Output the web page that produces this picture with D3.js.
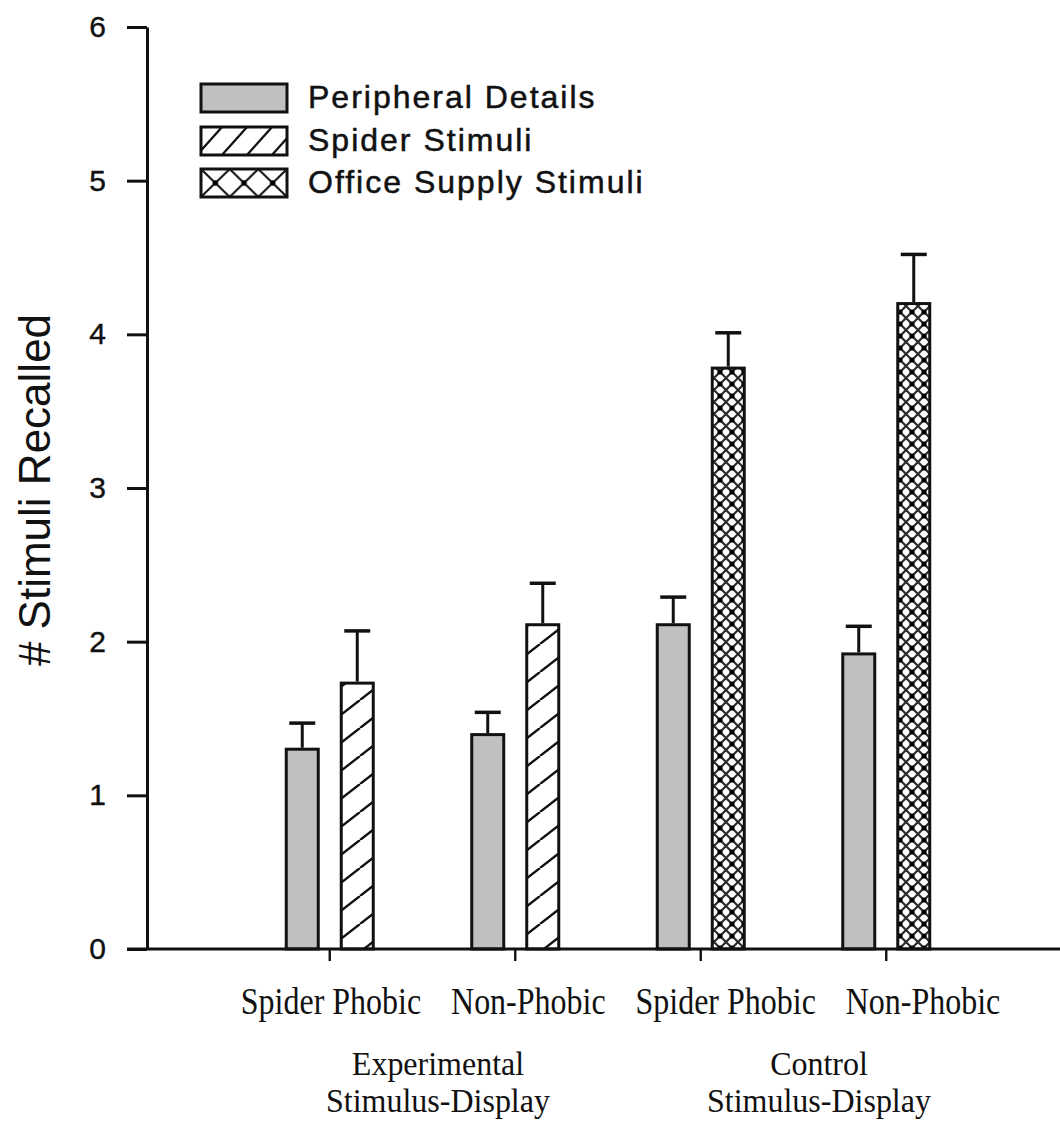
<!DOCTYPE html>
<html>
<head>
<meta charset="utf-8">
<script src="https://cdn.jsdelivr.net/npm/d3@7"></script>
<style>
  html, body { margin: 0; padding: 0; background: #fff; }
  svg { display: block; }
</style>
</head>
<body>
<div id="chart"></div>
<script>
// ---------- DATA ----------
const groupIds = ["exp-sp", "exp-np", "ctl-sp", "ctl-np"];
const participantLabels = ["Spider Phobic", "Non-Phobic", "Spider Phobic", "Non-Phobic"];
const conditionLabels = [["Experimental", "Stimulus-Display"], ["Control", "Stimulus-Display"]];
const peripheralMeans = [1.31, 1.405, 2.12, 1.93];
const peripheralErrors = [0.16, 0.135, 0.17, 0.17];
const stimulusMeans = [1.74, 2.12, 3.79, 4.21];
const stimulusErrors = [0.33, 0.26, 0.22, 0.31];
const stimulusTypes = ["spider", "spider", "office", "office"];
const seriesKeys = ["peripheral", "stimulus"];
const legendLabels = ["Peripheral Details", "Spider Stimuli", "Office Supply Stimuli"];
const legendTypes = ["peripheral", "spider", "office"];
const yTicks = [0, 1, 2, 3, 4, 5, 6];
const yTitle = "# Stimuli Recalled";

// ---------- LAYOUT ----------
const W = 1060, H = 1125;
const sans = "'Liberation Sans', Arial, Helvetica, sans-serif";
const serif = "'Liberation Serif', 'Times New Roman', Times, serif";

const svg = d3.select("#chart").append("svg")
  .attr("width", W).attr("height", H)
  .attr("viewBox", `0 0 ${W} ${H}`);

const defs = svg.append("defs");

// Spider hatch for bars
const sp = defs.append("pattern").attr("id", "spiderHatch")
  .attr("patternUnits", "userSpaceOnUse").attr("width", 36).attr("height", 28);
sp.append("rect").attr("width", 36).attr("height", 28).attr("fill", "#fff");
sp.append("path").attr("d", "M-36,28 L0,0 M0,28 L36,0 M36,28 L72,0")
  .attr("stroke", "#111").attr("stroke-width", 2.4);

// Office crosshatch for bars
const of = defs.append("pattern").attr("id", "officeHatch")
  .attr("patternUnits", "userSpaceOnUse").attr("width", 12).attr("height", 12);
of.append("rect").attr("width", 12).attr("height", 12).attr("fill", "#fff");
of.append("path").attr("d", "M0,12 L12,0 M0,0 L12,12 M-1,1 L1,-1 M11,13 L13,11")
  .attr("stroke", "#2a2a2a").attr("stroke-width", 2.2);
[[0,0],[12,0],[0,12],[12,12]].forEach(([cx, cy]) =>
  of.append("circle").attr("cx", cx).attr("cy", cy).attr("r", 2.6).attr("fill", "#000"));

// Legend patterns
const legendX = 201, legendW = 86, legendH = 28, legendTextX = 308;
const legendBaselines = [108, 151, 193];

const spl = defs.append("pattern").attr("id", "spiderLegend")
  .attr("patternUnits", "userSpaceOnUse").attr("width", 25).attr("height", 28)
  .attr("x", legendX - 4).attr("y", legendBaselines[1] - 24);
spl.append("rect").attr("width", 25).attr("height", 28).attr("fill", "#fff");
spl.append("path").attr("d", "M-25,28 L0,0 M0,28 L25,0 M25,28 L50,0")
  .attr("stroke", "#111").attr("stroke-width", 2.2);

const ofl = defs.append("pattern").attr("id", "officeLegend")
  .attr("patternUnits", "userSpaceOnUse").attr("width", 28.67).attr("height", 28)
  .attr("x", legendX).attr("y", legendBaselines[2] - 24);
ofl.append("rect").attr("width", 28.67).attr("height", 28).attr("fill", "#fff");
ofl.append("path").attr("d", "M0,0 L28.67,28 M0,28 L28.67,0")
  .attr("stroke", "#111").attr("stroke-width", 2);
ofl.append("circle").attr("cx", 14.33).attr("cy", 14).attr("r", 2.8).attr("fill", "#000");

const fillFor = t => t === "peripheral" ? "#c0c0c0" : (t === "spider" ? "url(#spiderHatch)" : "url(#officeHatch)");
const legendFill = t => t === "peripheral" ? "#c0c0c0" : (t === "spider" ? "url(#spiderLegend)" : "url(#officeLegend)");

// ---------- SCALES ----------
const y = d3.scaleLinear().domain([0, 6]).range([949, 27]);
const x = d3.scaleBand().domain(groupIds).range([237, 979]).paddingInner(0).paddingOuter(0);
const sub = d3.scaleBand().domain(seriesKeys).range([-45, 45]).paddingInner(0.3636).paddingOuter(0);
const labelX = d3.scaleLinear().domain([0, 3]).range([331, 923]);
const condX = d3.scaleLinear().domain([0, 1]).range([438, 819]);

// ---------- AXES ----------
const yAxis = d3.axisLeft(y).tickValues(yTicks).tickSize(20).tickSizeOuter(0).tickPadding(21)
  .tickFormat(d3.format("d"));
const gy = svg.append("g").attr("transform", "translate(147,0)").call(yAxis)
  .attr("font-size", 30).attr("font-family", sans);
gy.select(".domain").attr("stroke", "#111").attr("stroke-width", 3);
gy.selectAll(".tick line").attr("stroke", "#111").attr("stroke-width", 3);
gy.selectAll(".tick text").attr("font-family", sans).attr("font-size", 30)
  .attr("fill", "#111").attr("stroke", "#111").attr("stroke-width", 0.4);

const xAxis = d3.axisBottom(x).tickSize(12).tickSizeOuter(0).tickFormat("");
const gx = svg.append("g").attr("transform", `translate(0,${y(0)})`).call(xAxis);
gx.select(".domain").remove();
gx.selectAll(".tick line").attr("stroke", "#111").attr("stroke-width", 2.4);

// ---------- BARS ----------
const barData = [];
groupIds.forEach((g, i) => {
  barData.push({ g, key: "peripheral", type: "peripheral", v: peripheralMeans[i], e: peripheralErrors[i] });
  barData.push({ g, key: "stimulus", type: stimulusTypes[i], v: stimulusMeans[i], e: stimulusErrors[i] });
});
const cx = d => x(d.g) + x.bandwidth() / 2 + sub(d.key) + sub.bandwidth() / 2;

const bars = svg.append("g");
bars.selectAll("line.err").data(barData).join("line").attr("class", "err")
  .attr("x1", cx).attr("x2", cx)
  .attr("y1", d => y(d.v)).attr("y2", d => y(d.v + d.e))
  .attr("stroke", "#111").attr("stroke-width", 3);
bars.selectAll("line.cap").data(barData).join("line").attr("class", "cap")
  .attr("x1", d => cx(d) - 13).attr("x2", d => cx(d) + 13)
  .attr("y1", d => y(d.v + d.e)).attr("y2", d => y(d.v + d.e))
  .attr("stroke", "#111").attr("stroke-width", 3.5);
bars.selectAll("rect").data(barData).join("rect")
  .attr("x", d => x(d.g) + x.bandwidth() / 2 + sub(d.key) + 1.5)
  .attr("width", sub.bandwidth() - 3)
  .attr("y", d => y(d.v) + 1.5)
  .attr("height", d => y(0) - y(d.v) - 1.5)
  .attr("fill", d => fillFor(d.type))
  .attr("stroke", "#111").attr("stroke-width", 3);
svg.append("line").attr("x1", 127).attr("x2", W).attr("y1", y(0)).attr("y2", y(0))
  .attr("stroke", "#111").attr("stroke-width", 3);

// ---------- CATEGORY LABELS ----------
svg.append("g").selectAll("text").data(participantLabels).join("text")
  .attr("transform", (d, i) => `translate(${labelX(i)},1014) scale(1,1.18)`)
  .attr("text-anchor", "middle").attr("font-family", serif).attr("font-size", 32).attr("fill", "#111")
  .text(d => d);

const condG = svg.append("g");
conditionLabels.forEach((lines, i) => {
  lines.forEach((t, j) => {
    condG.append("text")
      .attr("transform", `translate(${condX(i)},${1075 + j * 37}) scale(1,1.03)`)
      .attr("text-anchor", "middle").attr("font-family", serif).attr("font-size", 32).attr("fill", "#111")
      .text(t);
  });
});

// ---------- Y TITLE ----------
svg.append("text")
  .attr("transform", "translate(50,490) rotate(-90)")
  .attr("text-anchor", "middle").attr("font-family", sans).attr("font-size", 44).attr("fill", "#111")
  .text(yTitle);

// ---------- LEGEND ----------
const lg = svg.append("g");
legendLabels.forEach((lab, i) => {
  lg.append("rect")
    .attr("x", legendX).attr("y", legendBaselines[i] - 24)
    .attr("width", legendW).attr("height", legendH)
    .attr("fill", legendFill(legendTypes[i]))
    .attr("stroke", "#111").attr("stroke-width", 3);
  lg.append("text")
    .attr("x", legendTextX).attr("y", legendBaselines[i])
    .attr("font-family", sans).attr("font-size", 32).attr("letter-spacing", 2)
    .attr("fill", "#111").attr("stroke", "#111").attr("stroke-width", 0.5)
    .text(lab);
});
</script>
</body>
</html>
